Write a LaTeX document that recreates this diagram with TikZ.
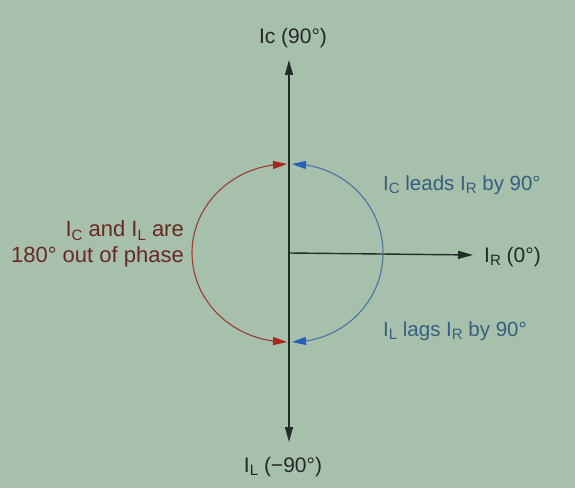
\documentclass[tikz,border=0pt]{standalone}
\usepackage{fontspec}
\setmainfont{Liberation Sans}
\usetikzlibrary{arrows.meta,bending}
\definecolor{bg}{RGB}{166,192,171}
\definecolor{axisc}{RGB}{35,45,40}
\definecolor{arcred}{RGB}{150,62,52}
\definecolor{arcblue}{RGB}{75,115,165}
\definecolor{tipred}{RGB}{165,40,30}
\definecolor{tipblue}{RGB}{40,95,180}
\definecolor{txtblue}{RGB}{55,95,125}
\definecolor{txtred}{RGB}{105,40,35}
\definecolor{txtdark}{RGB}{35,40,38}
\newcommand{\sbs}[1]{\raisebox{-0.3ex}{\fontsize{15}{15}\selectfont #1}}
\begin{document}
\begin{tikzpicture}[x=1pt,y=1pt,
  axisline/.style={draw=axisc,line width=1.4pt,-{Triangle[length=15pt,width=8pt]}},
  redarc/.style={draw=arcred,line width=1.1pt,{Triangle[length=14pt,width=8pt,color=tipred,flex]}-{Triangle[length=14pt,width=8pt,color=tipred,flex]}},
  bluearc/.style={draw=arcblue,line width=1.1pt,{Triangle[length=14pt,width=8pt,color=tipblue,flex]}-{Triangle[length=14pt,width=8pt,color=tipblue,flex]}},
  lbl/.style={font=\fontsize{21}{26}\selectfont,inner sep=0pt},
  sidelbl/.style={font=\fontsize{20.5}{26}\selectfont,inner sep=0pt},
  leftlbl/.style={font=\fontsize{22}{26}\selectfont,inner sep=0pt}]
\fill[bg] (0,0) rectangle (575,488);
\useasboundingbox (0,0) rectangle (575,488);
% coordinates
\coordinate (O) at (289,235);
\coordinate (T) at (289,428);
\coordinate (B) at (289,46);
\coordinate (R) at (473,233);
\coordinate (rtop) at (287,324);
\coordinate (btop) at (292,324);
% axes
\draw[axisline] (O) -- (T);
\draw[axisline] (O) -- (B);
\draw[axisline] (O) -- (R);
% arcs
\draw[redarc] (rtop) arc[start angle=90,end angle=270,x radius=95,y radius=89];
\draw[bluearc] (btop) arc[start angle=90,end angle=-90,x radius=91,y radius=89];
% labels
\node[lbl,text=txtdark] (lc) at (293,450) {Ic (90°)};
\node[lbl,text=txtdark] (ll) at (283,21) {I\sbs{L} (−90°)};
\node[lbl,text=txtdark,anchor=west] (lr) at (484,231) {I\sbs{R} (0°)};
\node[sidelbl,text=txtblue,anchor=west] (lead) at (383,303) {I\sbs{C} leads I\sbs{R} by 90°};
\node[sidelbl,text=txtblue,anchor=west] (lag) at (383,157) {I\sbs{L} lags I\sbs{R} by 90°};
\node[leftlbl,text=txtred,anchor=east,align=right] (phase) at (184,244) {I\sbs{C} and I\sbs{L} are\\180° out of phase};
\end{tikzpicture}
\end{document}
